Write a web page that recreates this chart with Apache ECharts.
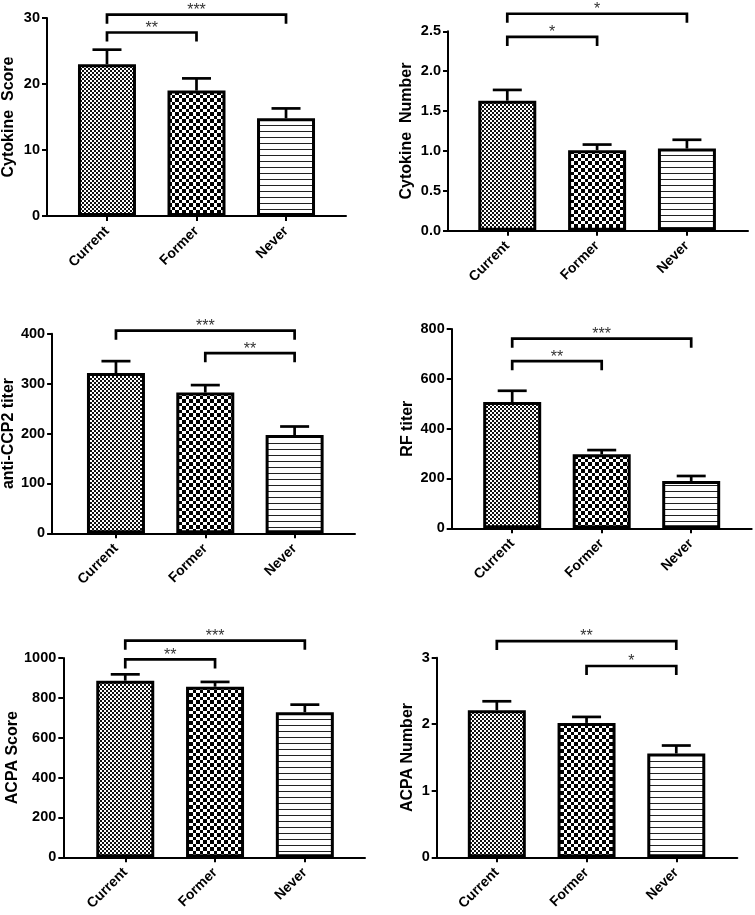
<!DOCTYPE html>
<html><head><meta charset="utf-8">
<script src="https://cdn.jsdelivr.net/npm/echarts@6/dist/echarts.min.js"></script>
<style>html,body{margin:0;padding:0;background:#fff}#c{width:755px;height:915px}</style>
</head><body><div id="c"></div>
<script>
// ---- data ----
const categories = ['Current', 'Former', 'Never'];

const yTitles = ['Cytokine  Score', 'Cytokine  Number', 'anti-CCP2 titer', 'RF titer', 'ACPA Score', 'ACPA Number'];
const yMax = [30, 2.5, 400, 800, 1000, 3];
const yInterval = [10, 0.5, 100, 200, 200, 1];
const yDecimals = [0, 1, 0, 0, 0, 0];

const cytokineScoreMean = [23.0, 19.0, 14.8];
const cytokineScoreSem = [2.2, 1.85, 1.5];
const cytokineNumberMean = [1.63, 1.01, 1.03];
const cytokineNumberSem = [0.135, 0.07, 0.11];
const antiCcp2Mean = [321, 282, 197];
const antiCcp2Sem = [24, 15, 17];
const rfTiterMean = [507, 297, 190];
const rfTiterSem = [45, 17, 20];
const acpaScoreMean = [886, 856, 728];
const acpaScoreSem = [32, 24, 38];
const acpaNumberMean = [2.21, 2.02, 1.56];
const acpaNumberSem = [0.135, 0.09, 0.12];

const means = [cytokineScoreMean, cytokineNumberMean, antiCcp2Mean, rfTiterMean, acpaScoreMean, acpaNumberMean];
const sems = [cytokineScoreSem, cytokineNumberSem, antiCcp2Sem, rfTiterSem, acpaScoreSem, acpaNumberSem];

// significance comparisons: [from category, to category, bracket level (data units)]
const sigCytokineScore = [[0, 2, 30.5], [0, 1, 27.8]];
const sigCytokineScoreLabels = ['***', '**'];
const sigCytokineNumber = [[0, 2, 2.72], [0, 1, 2.43]];
const sigCytokineNumberLabels = ['*', '*'];
const sigAntiCcp2 = [[0, 2, 406], [1, 2, 361]];
const sigAntiCcp2Labels = ['***', '**'];
const sigRf = [[0, 2, 761], [0, 1, 671]];
const sigRfLabels = ['***', '**'];
const sigAcpaScore = [[0, 2, 1087], [0, 1, 993]];
const sigAcpaScoreLabels = ['***', '**'];
const sigAcpaNumber = [[0, 2, 3.25], [1, 2, 2.875]];
const sigAcpaNumberLabels = ['**', '*'];

const sigs = [sigCytokineScore, sigCytokineNumber, sigAntiCcp2, sigRf, sigAcpaScore, sigAcpaNumber];
const sigLabels = [sigCytokineScoreLabels, sigCytokineNumberLabels, sigAntiCcp2Labels, sigRfLabels, sigAcpaScoreLabels, sigAcpaNumberLabels];

// ---- layout (pixels) ----
const layout = [
  {left: 47, top: 18, width: 299, height: 198, xmin: -0.67, xmax: 2.67, nameGap: 30},
  {left: 448, top: 31.3, width: 300, height: 199.4, xmin: -0.66, xmax: 2.68, nameGap: 33},
  {left: 51, top: 333.7, width: 304, height: 199.6, xmin: -0.715, xmax: 2.676, nameGap: 33},
  {left: 451.7, top: 329, width: 300, height: 199.3, xmin: -0.676, xmax: 2.676, nameGap: 36},
  {left: 63.3, top: 658, width: 301.7, height: 199.3, xmin: -0.69, xmax: 2.67, nameGap: 41},
  {left: 436.7, top: 657.7, width: 300.6, height: 199.6, xmin: -0.67, xmax: 2.68, nameGap: 21}
];

const FONT = '"Liberation Sans", Arial, Helvetica, sans-serif';

// ---- fill patterns ----
function fineChecker() {
  const c = document.createElement('canvas'); c.width = 4; c.height = 4;
  const g = c.getContext('2d');
  g.fillStyle = '#fff'; g.fillRect(0, 0, 4, 4);
  g.fillStyle = '#111'; g.fillRect(0, 0, 2, 2); g.fillRect(2, 2, 2, 2);
  return c;
}
function coarseChecker() {
  const c = document.createElement('canvas'); c.width = 14; c.height = 14;
  const g = c.getContext('2d');
  g.fillStyle = '#fff'; g.fillRect(0, 0, 14, 14);
  g.fillStyle = '#000';
  const edges = [0, 4, 7, 11, 14];
  for (let i = 0; i < 4; i++) for (let j = 0; j < 4; j++) {
    if ((i + j) % 2 === 0) g.fillRect(edges[i], edges[j], edges[i + 1] - edges[i], edges[j + 1] - edges[j]);
  }
  return c;
}
function hLines() {
  const c = document.createElement('canvas'); c.width = 6; c.height = 6;
  const g = c.getContext('2d');
  g.fillStyle = '#fff'; g.fillRect(0, 0, 6, 6);
  g.fillStyle = '#222'; g.fillRect(0, 5, 6, 1);
  return c;
}
const patterns = [
  {image: fineChecker(), repeat: 'repeat'},
  {image: coarseChecker(), repeat: 'repeat'},
  {image: hLines(), repeat: 'repeat'}
];

const grids = [], xAxes = [], yAxes = [], series = [];
for (let p = 0; p < 6; p++) {
  const L = layout[p];
  grids.push({left: L.left, top: L.top, width: L.width, height: L.height, containLabel: false});
  xAxes.push({
    type: 'value', gridIndex: p, min: L.xmin, max: L.xmax,
    splitLine: {show: false},
    axisLine: {show: true, onZero: false, lineStyle: {color: '#000', width: 2}},
    axisTick: {show: true, customValues: [0, 1, 2], length: 5, lineStyle: {color: '#000', width: 2}},
    axisLabel: {
      customValues: [0, 1, 2], formatter: v => categories[Math.round(v)],
      rotate: 45, margin: 13, fontSize: 14, fontWeight: 'bold', color: '#000', fontFamily: FONT
    }
  });
  yAxes.push({
    type: 'value', gridIndex: p, min: 0, max: yMax[p], interval: yInterval[p],
    name: yTitles[p], nameLocation: 'middle', nameGap: L.nameGap, nameRotate: 90,
    nameTextStyle: {fontSize: 16, fontWeight: 'bold', color: '#000', fontFamily: FONT},
    splitLine: {show: false},
    axisLine: {show: true, onZero: false, lineStyle: {color: '#000', width: 2}},
    axisTick: {show: true, length: 5, lineStyle: {color: '#000', width: 2}},
    axisLabel: {margin: 7, fontSize: 14.5, fontWeight: 'bold', color: '#000', fontFamily: FONT,
      formatter: v => v.toFixed(yDecimals[p])}
  });
  // bars
  series.push({
    type: 'bar', xAxisIndex: p, yAxisIndex: p, barWidth: 58, z: 3,
    data: means[p].map((m, i) => ({
      value: [i, m],
      itemStyle: {color: patterns[i], borderColor: '#000', borderWidth: 3}
    }))
  });
  // error bars (upper only)
  series.push({
    type: 'custom', xAxisIndex: p, yAxisIndex: p, z: 2, clip: false,
    encode: {x: 0, y: [1, 2]},
    data: means[p].map((m, i) => [i, m, m + sems[p][i]]),
    renderItem: (params, api) => {
      const a = api.coord([api.value(0), api.value(1)]);
      const b = api.coord([api.value(0), api.value(2)]);
      const st = {stroke: '#000', lineWidth: 2.7};
      return {type: 'group', children: [
        {type: 'line', shape: {x1: a[0], y1: a[1], x2: b[0], y2: b[1]}, style: st},
        {type: 'line', shape: {x1: b[0] - 14.5, y1: b[1], x2: b[0] + 14.5, y2: b[1]}, style: st}
      ]};
    }
  });
  // significance brackets
  const labs = sigLabels[p];
  series.push({
    type: 'custom', xAxisIndex: p, yAxisIndex: p, z: 4, clip: false,
    encode: {x: [0, 1], y: 2},
    data: sigs[p],
    renderItem: (params, api) => {
      const a = api.coord([api.value(0), api.value(2)]);
      const b = api.coord([api.value(1), api.value(2)]);
      const leg = 9;
      return {type: 'group', children: [
        {type: 'polyline', shape: {points: [[a[0], a[1] + leg], [a[0], a[1]], [b[0], b[1]], [b[0], b[1] + leg]]},
          style: {stroke: '#000', lineWidth: 2.7, fill: null}},
        {type: 'text', x: (a[0] + b[0]) / 2, y: a[1] - 4,
          style: {text: labs[params.dataIndex], fontSize: 16, fontFamily: FONT, fill: '#333',
            align: 'center', verticalAlign: 'middle'}}
      ]};
    }
  });
}

const chart = echarts.init(document.getElementById('c'), null, {renderer: 'canvas'});
chart.setOption({
  animation: false,
  backgroundColor: '#fff',
  grid: grids, xAxis: xAxes, yAxis: yAxes, series: series
});
</script>
</body></html>
